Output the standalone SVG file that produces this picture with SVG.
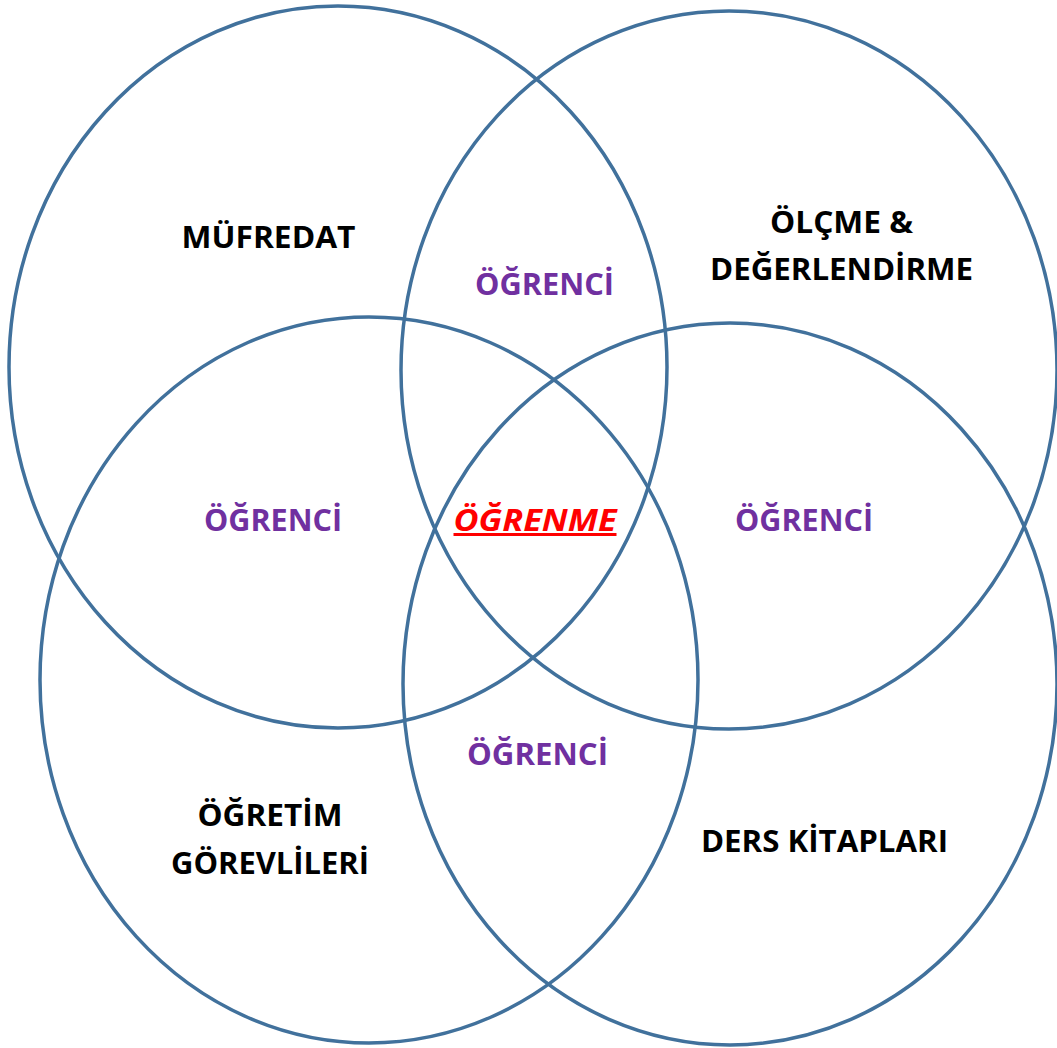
<svg xmlns="http://www.w3.org/2000/svg" width="1057" height="1048" viewBox="0 0 1057 1048">
<style>
.c{fill:none;stroke:#41719C;stroke-width:3.5}
.t{font-family:"Open Sans","Liberation Sans",sans-serif;font-weight:bold;font-size:30px;text-anchor:middle}
.k{fill:#000}
.p{fill:#7030A0}
.r{fill:#FF0000;font-style:italic;text-decoration:underline}
</style>
<rect width="1057" height="1048" fill="#fff"/>
<g id="connectors"></g>
<g id="n1"><ellipse class="c" cx="338" cy="367" rx="329" ry="361"/><text class="t k" x="268.5" y="248" textLength="174" lengthAdjust="spacingAndGlyphs">MÜFREDAT</text></g>
<g id="n2"><ellipse class="c" cx="729" cy="370" rx="328" ry="359"/><text class="t k" x="841.5" y="233" textLength="143" lengthAdjust="spacingAndGlyphs">ÖLÇME &amp;</text><text class="t k" x="841.5" y="280" textLength="263" lengthAdjust="spacingAndGlyphs">DEĞERLENDİRME</text></g>
<g id="n3"><ellipse class="c" cx="369" cy="680" rx="329" ry="363"/><text class="t k" x="270" y="826" textLength="145" lengthAdjust="spacingAndGlyphs">ÖĞRETİM</text><text class="t k" x="270" y="874" textLength="198" lengthAdjust="spacingAndGlyphs">GÖREVLİLERİ</text></g>
<g id="n4"><ellipse class="c" cx="730" cy="684" rx="327" ry="361"/><text class="t k" x="824.5" y="852" textLength="247" lengthAdjust="spacingAndGlyphs">DERS KİTAPLARI</text></g>
<g id="s1"><text class="t p" x="544.5" y="295" textLength="139" lengthAdjust="spacingAndGlyphs">ÖĞRENCİ</text></g>
<g id="s2"><text class="t p" x="273" y="531" textLength="138" lengthAdjust="spacingAndGlyphs">ÖĞRENCİ</text></g>
<g id="s3"><text class="t p" x="804" y="531" textLength="138" lengthAdjust="spacingAndGlyphs">ÖĞRENCİ</text></g>
<g id="s4"><text class="t p" x="537.5" y="765" textLength="141" lengthAdjust="spacingAndGlyphs">ÖĞRENCİ</text></g>
<g id="center"><text class="t r" x="535" y="531" textLength="163" lengthAdjust="spacingAndGlyphs">ÖĞRENME</text></g>
</svg>
